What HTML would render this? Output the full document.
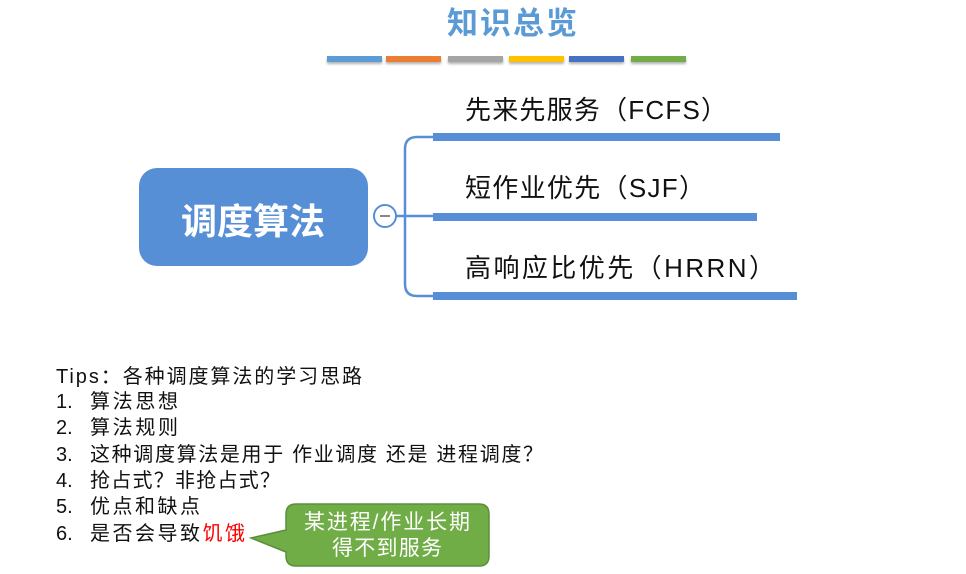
<!DOCTYPE html>
<html><head><meta charset="utf-8"><style>
body{margin:0;background:#fff;width:966px;height:574px;overflow:hidden}
svg{display:block}
.t{font-family:"Liberation Sans","Noto Sans CJK SC",sans-serif}
</style></head><body>
<svg width="966" height="574" xmlns="http://www.w3.org/2000/svg">
<defs><filter id="sh" x="-10%" y="-50%" width="120%" height="300%"><feDropShadow dx="0" dy="2" stdDeviation="1.2" flood-color="#000" flood-opacity="0.3"/></filter></defs>
<text x="512" y="34" text-anchor="middle" class="t" font-family="Liberation Serif,Noto Serif CJK SC,serif" font-size="31" font-weight="bold" fill="#5b9bd5" textLength="130" lengthAdjust="spacing">知识总览</text>
<g filter="url(#sh)">
<rect x="327" y="56" width="55" height="6" fill="#5b9bd5"/>
<rect x="386" y="56" width="55" height="6" fill="#ed7d31"/>
<rect x="448" y="56" width="55" height="6" fill="#a5a5a5"/>
<rect x="509" y="56" width="55" height="6" fill="#ffc000"/>
<rect x="569" y="56" width="55" height="6" fill="#4472c4"/>
<rect x="631" y="56" width="55" height="6" fill="#70ad47"/>
</g>
<rect x="139" y="168" width="229" height="98" rx="18" fill="#578fd6"/>
<text x="253" y="234" text-anchor="middle" class="t" font-size="36" font-weight="bold" fill="#fff">调度算法</text>
<path d="M396 216 H433 M433 137 H417 Q405 137 405 149 V284 Q405 296 417 296 H433" fill="none" stroke="#578fd6" stroke-width="2.5"/>
<circle cx="385" cy="216" r="11" fill="#fff" stroke="#578fd6" stroke-width="2"/>
<line x1="380" y1="216" x2="390" y2="216" stroke="#888" stroke-width="2"/>
<rect x="433" y="133" width="347" height="8" fill="#578fd6"/>
<rect x="433" y="213" width="324" height="8" fill="#578fd6"/>
<rect x="433" y="292" width="364" height="8" fill="#578fd6"/>
<g class="t" font-size="26" fill="#111">
<text x="465" y="119" textLength="262" lengthAdjust="spacing">先来先服务（FCFS）</text>
<text x="465" y="197" textLength="240" lengthAdjust="spacing">短作业优先（SJF）</text>
<text x="465" y="277" textLength="310" lengthAdjust="spacing">高响应比优先（HRRN）</text>
</g>
<g class="t" font-size="20" fill="#111">
<text x="56" y="383" textLength="306" lengthAdjust="spacing">Tips：各种调度算法的学习思路</text>
<text x="56" y="408">1.</text><text x="90" y="408" textLength="88" lengthAdjust="spacing">算法思想</text>
<text x="56" y="434">2.</text><text x="90" y="434" textLength="88" lengthAdjust="spacing">算法规则</text>
<text x="56" y="461">3.</text><text x="90" y="461" textLength="453" lengthAdjust="spacing">这种调度算法是用于 作业调度 还是 进程调度？</text>
<text x="56" y="487">4.</text><text x="90" y="487" textLength="190" lengthAdjust="spacing">抢占式？非抢占式？</text>
<text x="56" y="513">5.</text><text x="90" y="513" textLength="110" lengthAdjust="spacing">优点和缺点</text>
<text x="56" y="540">6.</text><text x="90" y="540" textLength="155" lengthAdjust="spacing">是否会导致<tspan fill="#ff0000">饥饿</tspan></text>
</g>
<path d="M296 504 H479 Q489 504 489 514 V556 Q489 566 479 566 H296 Q286 566 286 556 V552 L251 538 L286 530 V514 Q286 504 296 504 Z" fill="#70ad47" stroke="#5a8f3a" stroke-width="1.5"/>
<g class="t" font-size="21" fill="#fff" text-anchor="middle">
<text x="387" y="529" textLength="166" lengthAdjust="spacing">某进程/作业长期</text>
<text x="387" y="555" textLength="110" lengthAdjust="spacing">得不到服务</text>
</g>
</svg>
</body></html>
